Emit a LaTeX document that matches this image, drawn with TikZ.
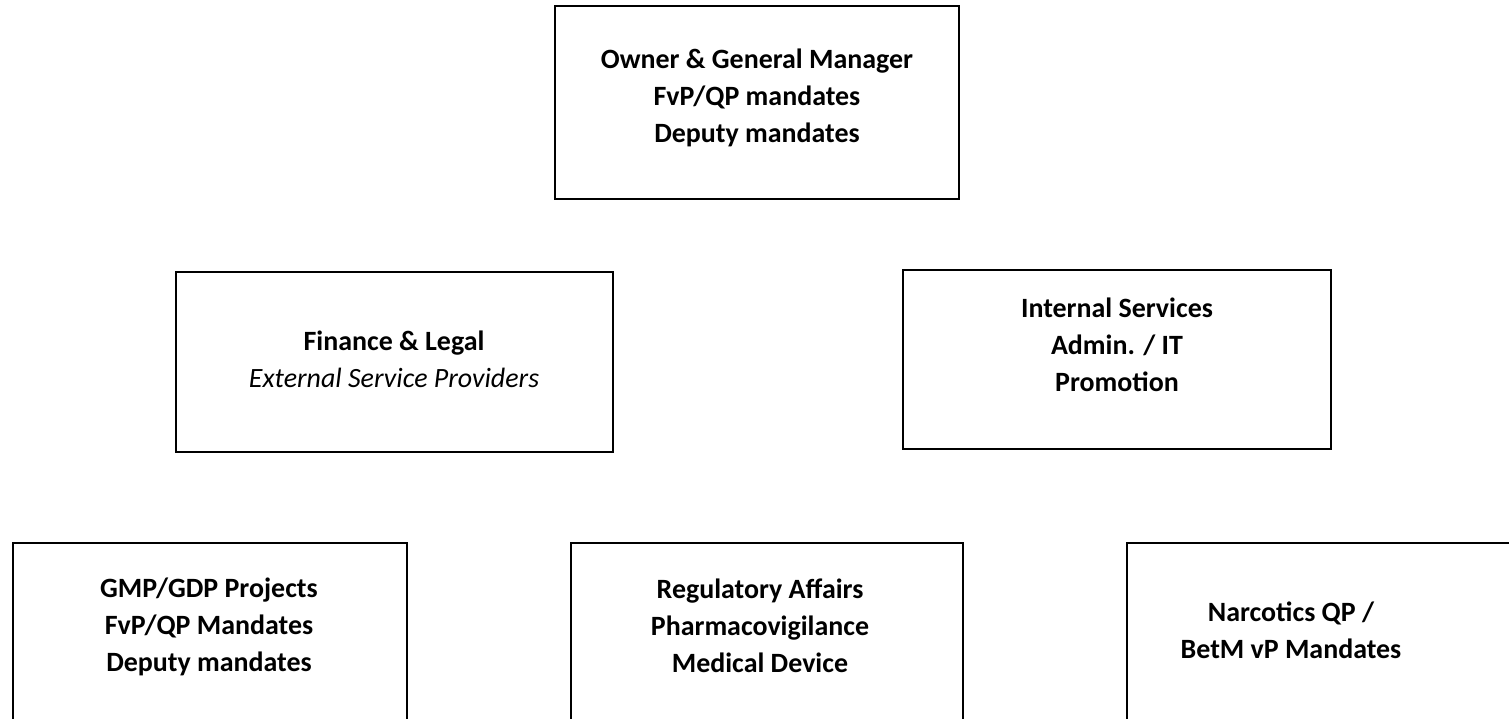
\documentclass[tikz,border=0pt]{standalone}
\usepackage{fontspec}
\setmainfont{Carlito}

\begin{document}
\begin{tikzpicture}[x=0.02cm, y=-0.02cm, box/.style={draw, line width=1.15pt, inner sep=0pt}, txt/.style={align=center, inner sep=0pt, font=\fontsize{15.9}{21}\selectfont\bfseries}]
	\useasboundingbox (0,0) rectangle (1509,719);
	\clip (0,0) rectangle (1509,719);
	\node (owner) [box, minimum width=8.08cm, minimum height=3.86cm] at (757,102.5) {};
	\node (finance) [box, minimum width=8.74cm, minimum height=3.6cm] at (394.5,362) {};
	\node (internal) [box, minimum width=8.56cm, minimum height=3.58cm] at (1117,359.5) {};
	\node (gmp) [box, minimum width=7.88cm, minimum height=3.94cm] at (210,641.5) {};
	\node (regaff) [box, minimum width=7.84cm, minimum height=3.94cm] at (767,641.5) {};
	\node (narco) [box, minimum width=8.06cm, minimum height=3.94cm] at (1328.5,641.5) {};
	\node (ownerlbl) [txt] at (757,98) {Owner \& General Manager\\FvP/QP mandates\\Deputy mandates};
	\node (financelbl) [txt] at (394,359) {Finance \& Legal\\\mdseries\itshape External Service Providers};
	\node (internallbl) [txt] at (1117,345) {Internal Services\\Admin. / IT\\Promotion};
	\node (gmplbl) [txt] at (209,627) {GMP/GDP Projects\\FvP/QP Mandates\\Deputy mandates};
	\node (regafflbl) [txt] at (760,626) {Regulatory Affairs\\Pharmacovigilance\\Medical Device};
	\node (narcolbl) [txt] at (1291,630) {Narcotics QP /\\BetM vP Mandates};
\end{tikzpicture}
\end{document}
